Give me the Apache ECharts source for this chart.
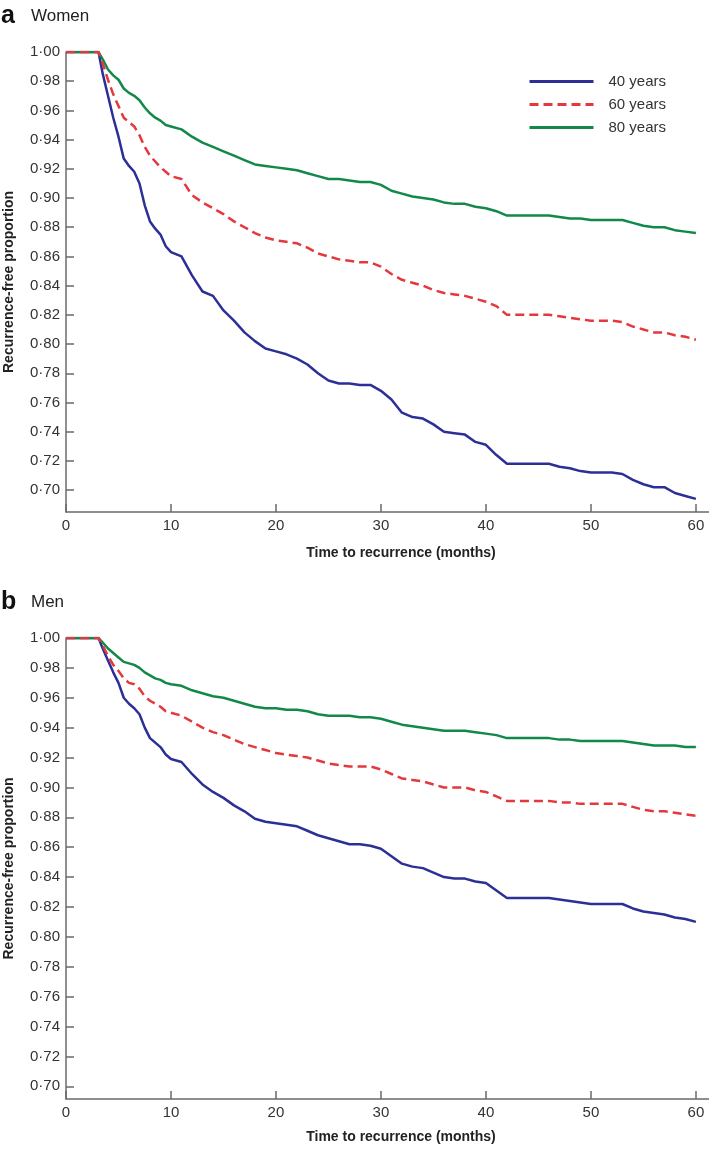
<!DOCTYPE html>
<html>
<head>
<meta charset="utf-8">
<script src="https://cdn.jsdelivr.net/npm/echarts@6.0.0/dist/echarts.min.js"></script>
<style>
html,body{margin:0;padding:0;background:#fff;}
#chart{width:709px;height:1149px;}
</style>
</head>
<body>
<div id="chart"></div>
<script>
// ---- data ----
var months = [0, 3.1, 3.5, 4, 4.5, 5, 5.5, 6, 6.5, 7, 7.5, 8, 8.5, 9, 9.5, 10, 11, 12, 13, 14, 15, 16, 17, 18, 19, 20, 21, 22, 23, 24, 25, 26, 27, 28, 29, 30, 31, 32, 33, 34, 35, 36, 37, 38, 39, 40, 41, 42, 44, 46, 47, 48, 49, 50, 52, 53, 54, 55, 56, 57, 58, 59, 60];

var women40 = [1, 1, 0.985, 0.97, 0.955, 0.942, 0.927, 0.922, 0.918, 0.91, 0.895, 0.884, 0.879, 0.875, 0.867, 0.863, 0.86, 0.847, 0.836, 0.833, 0.823, 0.816, 0.808, 0.802, 0.797, 0.795, 0.793, 0.79, 0.786, 0.78, 0.775, 0.773, 0.773, 0.772, 0.772, 0.768, 0.762, 0.753, 0.75, 0.749, 0.745, 0.74, 0.739, 0.738, 0.733, 0.731, 0.724, 0.718, 0.718, 0.718, 0.716, 0.715, 0.713, 0.712, 0.712, 0.711, 0.707, 0.704, 0.702, 0.702, 0.698, 0.696, 0.694];
var women60 = [1, 1, 0.992, 0.981, 0.971, 0.963, 0.955, 0.952, 0.949, 0.943, 0.935, 0.929, 0.925, 0.921, 0.918, 0.915, 0.913, 0.902, 0.897, 0.893, 0.889, 0.884, 0.88, 0.876, 0.873, 0.871, 0.87, 0.869, 0.866, 0.862, 0.86, 0.858, 0.857, 0.856, 0.856, 0.853, 0.848, 0.844, 0.842, 0.84, 0.837, 0.835, 0.834, 0.833, 0.831, 0.829, 0.826, 0.82, 0.82, 0.82, 0.819, 0.818, 0.817, 0.816, 0.816, 0.815, 0.812, 0.81, 0.808, 0.808, 0.806, 0.805, 0.803];
var women80 = [1, 1, 0.995, 0.988, 0.984, 0.981, 0.975, 0.972, 0.97, 0.967, 0.962, 0.958, 0.955, 0.953, 0.95, 0.949, 0.947, 0.942, 0.938, 0.935, 0.932, 0.929, 0.926, 0.923, 0.922, 0.921, 0.92, 0.919, 0.917, 0.915, 0.913, 0.913, 0.912, 0.911, 0.911, 0.909, 0.905, 0.903, 0.901, 0.9, 0.899, 0.897, 0.896, 0.896, 0.894, 0.893, 0.891, 0.888, 0.888, 0.888, 0.887, 0.886, 0.886, 0.885, 0.885, 0.885, 0.883, 0.881, 0.88, 0.88, 0.878, 0.877, 0.876];

var men40 = [1, 1, 0.993, 0.985, 0.977, 0.97, 0.96, 0.956, 0.953, 0.949, 0.94, 0.933, 0.93, 0.927, 0.922, 0.919, 0.917, 0.909, 0.902, 0.897, 0.893, 0.888, 0.884, 0.879, 0.877, 0.876, 0.875, 0.874, 0.871, 0.868, 0.866, 0.864, 0.862, 0.862, 0.861, 0.859, 0.854, 0.849, 0.847, 0.846, 0.843, 0.84, 0.839, 0.839, 0.837, 0.836, 0.831, 0.826, 0.826, 0.826, 0.825, 0.824, 0.823, 0.822, 0.822, 0.822, 0.819, 0.817, 0.816, 0.815, 0.813, 0.812, 0.81];
var men60 = [1, 1, 0.995, 0.988, 0.982, 0.978, 0.973, 0.97, 0.969, 0.966, 0.961, 0.958, 0.956, 0.954, 0.951, 0.95, 0.948, 0.944, 0.94, 0.937, 0.935, 0.932, 0.929, 0.927, 0.925, 0.923, 0.922, 0.921, 0.92, 0.918, 0.916, 0.915, 0.914, 0.914, 0.914, 0.912, 0.909, 0.906, 0.905, 0.904, 0.902, 0.9, 0.9, 0.9, 0.898, 0.897, 0.894, 0.891, 0.891, 0.891, 0.89, 0.89, 0.889, 0.889, 0.889, 0.889, 0.887, 0.885, 0.884, 0.884, 0.883, 0.882, 0.881];
var men80 = [1, 1, 0.997, 0.993, 0.99, 0.987, 0.984, 0.983, 0.982, 0.98, 0.977, 0.975, 0.973, 0.972, 0.97, 0.969, 0.968, 0.965, 0.963, 0.961, 0.96, 0.958, 0.956, 0.954, 0.953, 0.953, 0.952, 0.952, 0.951, 0.949, 0.948, 0.948, 0.948, 0.947, 0.947, 0.946, 0.944, 0.942, 0.941, 0.94, 0.939, 0.938, 0.938, 0.938, 0.937, 0.936, 0.935, 0.933, 0.933, 0.933, 0.932, 0.932, 0.931, 0.931, 0.931, 0.931, 0.93, 0.929, 0.928, 0.928, 0.928, 0.927, 0.927];

var seriesNames = ['40 years', '60 years', '80 years'];
var xTicks = [0, 10, 20, 30, 40, 50, 60];
var yTicks = [0.70, 0.72, 0.74, 0.76, 0.78, 0.80, 0.82, 0.84, 0.86, 0.88, 0.90, 0.92, 0.94, 0.96, 0.98, 1.00];
var panelLetters = ['a', 'b'];
var panelTitles = ['Women', 'Men'];
var xTitle = 'Time to recurrence (months)';
var yTitle = 'Recurrence-free proportion';

// ---- styling ----
var FONT = '"Liberation Sans", Arial, Helvetica, sans-serif';
var colors = ['#2c2f96', '#e3383c', '#12884a'];
var lineTypes = ['solid', [9, 5], 'solid'];
var axisColor = '#6a6a6a';

function pairs(vals) { return months.map(function (m, i) { return [m, vals[i]]; }); }

function xAxisCfg(gridIndex, nameGap) {
  return {
    type: 'value', gridIndex: gridIndex, min: 0, max: 61.25,
    name: xTitle, nameLocation: 'middle', nameGap: nameGap,
    nameTextStyle: { fontFamily: FONT, fontWeight: 'bold', fontSize: 14, color: '#222', padding: [0, 0, 0, 27] },
    axisLine: { show: true, lineStyle: { color: axisColor, width: 1.5 } },
    axisTick: { show: true, inside: true, length: 8, lineStyle: { color: axisColor, width: 1.5 }, customValues: xTicks },
    axisLabel: { fontFamily: FONT, fontSize: 15, color: '#333', margin: 6, customValues: xTicks },
    splitLine: { show: false }
  };
}
function yAxisCfg(gridIndex, min) {
  return {
    type: 'value', gridIndex: gridIndex, min: min, max: 1.0,
    name: yTitle, nameLocation: 'middle', nameGap: 50, nameRotate: 90,
    nameTextStyle: { fontFamily: FONT, fontWeight: 'bold', fontSize: 14, color: '#222' },
    axisLine: { show: true, lineStyle: { color: axisColor, width: 1.5 } },
    axisTick: { show: true, inside: true, length: 8, lineStyle: { color: axisColor, width: 1.5 }, customValues: yTicks },
    axisLabel: {
      fontFamily: FONT, fontSize: 15, color: '#333', margin: 6, customValues: yTicks,
      formatter: function (v) { return v.toFixed(2).replace('.', '\u00B7'); }
    },
    splitLine: { show: false }
  };
}
function mkSeries(name, vals, idx, panel) {
  return {
    name: name, type: 'line', xAxisIndex: panel, yAxisIndex: panel,
    data: pairs(vals), symbol: 'none', showSymbol: false, animation: false,
    z: idx === 1 ? 4 : 3,
    lineStyle: { color: colors[idx], width: 2.5, type: lineTypes[idx] },
    itemStyle: { color: colors[idx] }
  };
}

var chart = echarts.init(document.getElementById('chart'), null, { renderer: 'canvas' });
chart.setOption({
  backgroundColor: '#fff',
  animation: false,
  grid: [
    { left: 66, top: 52, width: 643, height: 460, outerBoundsMode: 'none', containLabel: false },
    { left: 66, top: 638, width: 643, height: 461, outerBoundsMode: 'none', containLabel: false }
  ],
  xAxis: [xAxisCfg(0, 34), xAxisCfg(1, 31)],
  yAxis: [yAxisCfg(0, 0.685), yAxisCfg(1, 0.6915)],
  legend: {
    orient: 'vertical', left: 523, top: 69,
    itemWidth: 64, itemHeight: 14, itemGap: 8,
    data: seriesNames,
    itemStyle: { opacity: 0 },
    lineStyle: { width: 3 },
    textStyle: { fontFamily: FONT, fontSize: 15, color: '#333', lineHeight: 15, padding: [0, 0, 0, 10] }
  },
  graphic: [
    { type: 'text', left: 1, top: 4, style: { text: panelLetters[0], font: 'bold 25px ' + FONT, fill: '#111' } },
    { type: 'text', left: 31, top: 8, style: { text: panelTitles[0], font: '17px ' + FONT, fill: '#222' } },
    { type: 'text', left: 1, top: 590, style: { text: panelLetters[1], font: 'bold 25px ' + FONT, fill: '#111' } },
    { type: 'text', left: 31, top: 594, style: { text: panelTitles[1], font: '17px ' + FONT, fill: '#222' } }
  ],
  series: [
    mkSeries(seriesNames[0], women40, 0, 0),
    mkSeries(seriesNames[1], women60, 1, 0),
    mkSeries(seriesNames[2], women80, 2, 0),
    mkSeries(seriesNames[0], men40, 0, 1),
    mkSeries(seriesNames[1], men60, 1, 1),
    mkSeries(seriesNames[2], men80, 2, 1)
  ]
});
</script>
</body>
</html>
